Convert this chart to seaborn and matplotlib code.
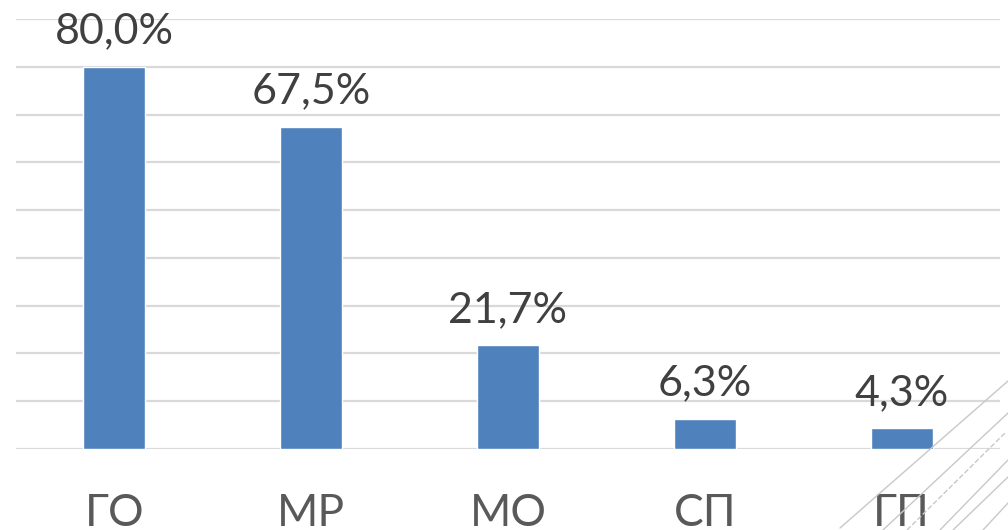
import matplotlib
matplotlib.use("Agg")
import matplotlib.pyplot as plt
import seaborn as sns
import pandas as pd
from matplotlib.lines import Line2D

categories = ["ГО", "МР", "МО", "СП", "ГП"]
values = [80.0, 67.5, 21.7, 6.3, 4.3]

sns.set_style("white")
plt.rcParams["font.family"] = ["Lato", "DejaVu Sans"]

df = pd.DataFrame({"cat": categories, "val": values})

fig = plt.figure(figsize=(10.08, 5.30), dpi=100)
ax = fig.add_axes([16 / 1008, 81 / 530, 984 / 1008, 430 / 530])

sns.barplot(data=df, x="cat", y="val", color="#4F81BD", width=0.315,
            saturation=1, ax=ax, zorder=3)

ax.set_ylim(0, 90)
ax.set_yticks(range(0, 91, 10))
ax.yaxis.grid(True, color="#D9D9D9", linewidth=1.6, zorder=0)
ax.set_axisbelow(True)
ax.tick_params(axis="y", left=False, labelleft=False)
ax.tick_params(axis="x", bottom=False, labelsize=32, labelcolor="#595959", pad=28)
ax.set_xlabel("")
ax.set_ylabel("")
for s in ax.spines.values():
    s.set_visible(False)

for i, v in enumerate(values):
    ax.annotate(f"{v:.1f}%".replace(".", ","), (i, v), xytext=(0, 17),
                textcoords="offset points", ha="center", va="baseline",
                fontsize=31, color="#404040")

# decorative diagonal lines in bottom-right corner
W, H = 1008, 530
deco = [
    ((840, 528), (1008, 381), "-"),
    ((883, 530), (1008, 413), "-"),
    ((907, 530), (1005, 433), "--"),
    ((940, 530), (1008, 460), "-"),
    ((953, 530), (1008, 477), "-"),
    ((983, 530), (1008, 503), "-"),
]
for (x0, y0), (x1, y1), ls in deco:
    fig.add_artist(Line2D([x0 / W, x1 / W], [1 - y0 / H, 1 - y1 / H],
                          transform=fig.transFigure, color="#C8C8C8",
                          linewidth=1.0, linestyle=ls))

fig.savefig("out.png", dpi=100)
